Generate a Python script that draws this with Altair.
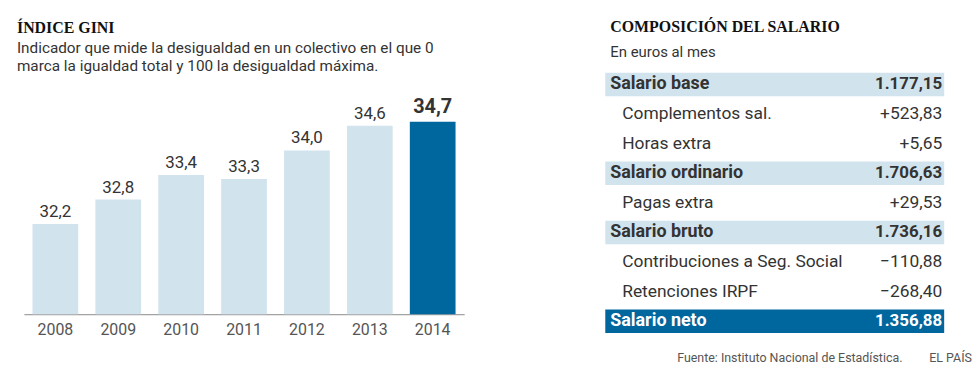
import altair as alt
import pandas as pd

# ---------------- data ----------------
years = ["2008", "2009", "2010", "2011", "2012", "2013", "2014"]
gini = [32.2, 32.8, 33.4, 33.3, 34.0, 34.6, 34.7]

rows = ["Salario base", "Complementos sal.", "Horas extra", "Salario ordinario",
        "Pagas extra", "Salario bruto", "Contribuciones a Seg. Social",
        "Retenciones IRPF", "Salario neto"]
amounts = ["1.177,15", "+523,83", "+5,65", "1.706,63", "+29,53", "1.736,16",
           "\u2212110,88", "\u2212268,40", "1.356,88"]
kinds = ["total", "item", "item", "total", "item", "total", "item", "item", "final"]

SANS = "Roboto"
SERIF = "Liberation Serif"
DARK = "#00669e"
LIGHT = "#d1e3ec"
TXT = "#333333"

# ---------------- left: Gini bars ----------------
gdf = pd.DataFrame({
    "year": years,
    "gini": gini,
    "label": [f"{v:.1f}".replace(".", ",") for v in gini],
    "last": [y == years[-1] for y in years],
})

x_enc = alt.X("year:N", sort=years, title=None,
              scale=alt.Scale(paddingInner=0.273, paddingOuter=0.137),
              axis=alt.Axis(labelFont=SANS, labelFontSize=16, labelColor="#555555",
                            domainColor="#8a8a8a", domainWidth=1, ticks=False,
                            labelPadding=7, labelAngle=0))
y_enc = alt.Y("gini:Q", scale=alt.Scale(domain=[30, 35.97], nice=False, zero=False), axis=None)

base = alt.Chart(gdf)
bars = base.mark_bar().encode(
    x=x_enc, y=y_enc, y2=alt.datum(30),
    color=alt.condition("datum.last", alt.value(DARK), alt.value(LIGHT)),
)
lbl = base.transform_filter("!datum.last").mark_text(
    font=SANS, fontSize=17, color=TXT, baseline="alphabetic", dy=-7
).encode(x=x_enc, y=y_enc, text="label:N")
lbl_last = base.transform_filter("datum.last").mark_text(
    font=SANS, fontSize=20, fontWeight="bold", color=TXT, baseline="alphabetic", dy=-9
).encode(x=x_enc, y=y_enc, text="label:N")

left = alt.layer(bars, lbl, lbl_last).properties(
    width=443, height=246,
    title=alt.TitleParams(
        text="ÍNDICE GINI",
        subtitle=["Indicador que mide la desigualdad en un colectivo en el que 0",
                  "marca la igualdad total y 100 la desigualdad máxima."],
        anchor="start", dx=-7, font=SERIF, fontSize=16, fontWeight="bold", color="#111111",
        subtitleFont=SANS, subtitleFontSize=15.4, subtitleColor=TXT, subtitleLineHeight=18,
        subtitlePadding=6, offset=-5,
    ),
)

# ---------------- right: salary table ----------------
tdf = pd.DataFrame({"row": rows, "amount": amounts, "kind": kinds})
y_row = alt.Y("row:N", sort=rows, axis=None, title=None,
              scale=alt.Scale(paddingInner=0.21, paddingOuter=0.105))
tb = alt.Chart(tdf)
bands = tb.transform_filter("datum.kind != 'item'").mark_rect().encode(
    y=y_row, x=alt.value(0), x2=alt.value(341),
    color=alt.condition("datum.kind == 'final'", alt.value(DARK), alt.value(LIGHT)),
)
lab_tot = tb.transform_filter("datum.kind != 'item'").mark_text(
    font=SANS, fontSize=18, fontWeight="bold", align="left", baseline="middle"
).encode(y=y_row, x=alt.value(5), text="row:N",
         color=alt.condition("datum.kind == 'final'", alt.value("white"), alt.value(TXT)))
val_tot = tb.transform_filter("datum.kind != 'item'").mark_text(
    font=SANS, fontSize=17, fontWeight="bold", align="right", baseline="middle"
).encode(y=y_row, x=alt.value(339), text="amount:N",
         color=alt.condition("datum.kind == 'final'", alt.value("white"), alt.value(TXT)))
lab_item = tb.transform_filter("datum.kind == 'item'").mark_text(
    font=SANS, fontSize=17.5, align="left", baseline="middle", color=TXT
).encode(y=y_row, x=alt.value(17), text="row:N")
val_item = tb.transform_filter("datum.kind == 'item'").mark_text(
    font=SANS, fontSize=17.5, align="right", baseline="middle", color=TXT
).encode(y=y_row, x=alt.value(339), text="amount:N")

foot = alt.Chart(pd.DataFrame({"t": ["Fuente: Instituto Nacional de Estadística."]})).mark_text(
    font=SANS, fontSize=12.5, color="#555555", align="right", baseline="middle"
).encode(text="t:N", x=alt.value(299), y=alt.value(290))
brand = alt.Chart(pd.DataFrame({"t": ["EL PAÍS"]})).mark_text(
    font=SANS, fontSize=12.5, color="#555555", align="left", baseline="middle"
).encode(text="t:N", x=alt.value(326), y=alt.value(290))

right = alt.layer(bands, lab_tot, val_tot, lab_item, val_item, foot, brand).properties(
    width=341, height=268,
    title=alt.TitleParams(
        text="COMPOSICIÓN DEL SALARIO", subtitle="En euros al mes",
        anchor="start", dx=5, font=SERIF, fontSize=16, fontWeight="bold", color="#111111",
        subtitleFont=SANS, subtitleFontSize=15, subtitleColor=TXT,
        subtitlePadding=10, offset=10,
    ),
)

chart = alt.hconcat(left, right, spacing=142).properties(
    padding={"left": 9, "top": 10, "right": 0, "bottom": 0}
).configure(background="white").configure_view(strokeWidth=0, stroke=None)

chart.save("out.html", embed_options={"renderer": "svg", "actions": False})
